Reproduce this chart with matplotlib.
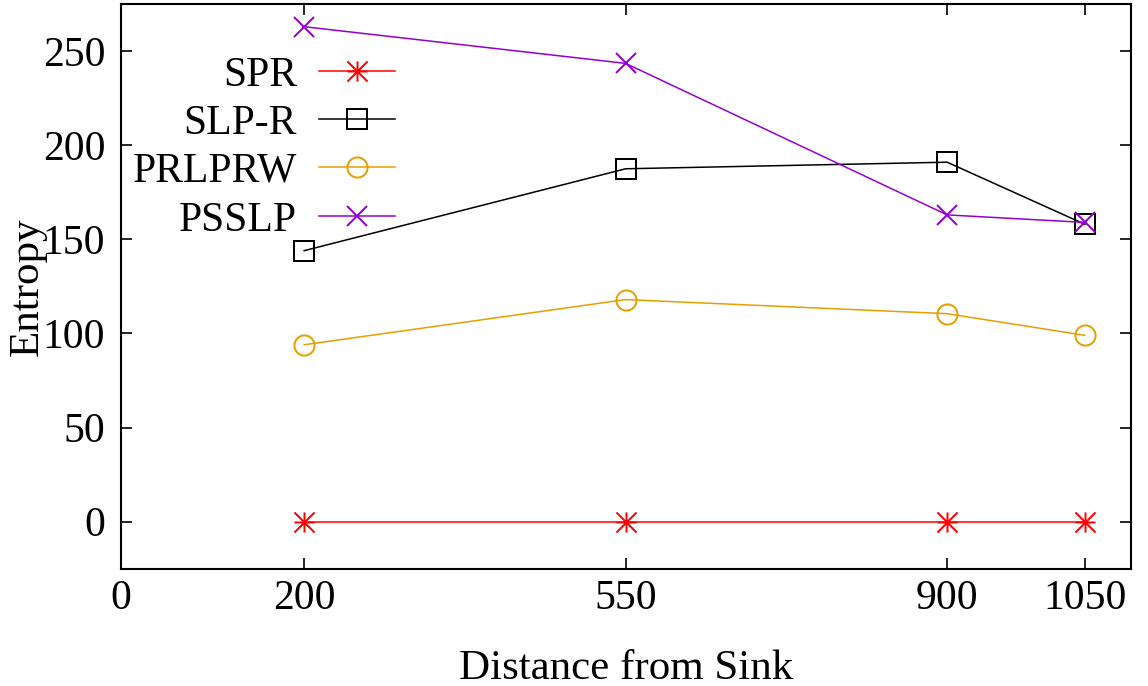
import matplotlib
matplotlib.use("Agg")
import matplotlib.pyplot as plt
from matplotlib.path import Path
from matplotlib.lines import Line2D

# Data
distance = [200, 550, 900, 1050]
spr = [0, 0, 0, 0]
slp_r = [144, 187.5, 191, 158]
prlprw = [94, 118, 110.5, 99]
psslp = [263, 243.5, 163, 159]

x_ticks = [0, 200, 550, 900, 1050]
y_ticks = [0, 50, 100, 150, 200, 250]

plt.rcParams["font.family"] = ["Liberation Serif", "DejaVu Serif"]

# Eight-armed asterisk marker (plus + cross)
asterisk = Path(
    [(-1, 0), (1, 0), (0, -1), (0, 1), (-1, -1), (1, 1), (-1, 1), (1, -1)],
    [Path.MOVETO, Path.LINETO] * 4,
)

fig = plt.figure(figsize=(11.48, 6.86), dpi=100)
ax = fig.add_axes([0.105, 0.171, 0.880, 0.823])

lw = 1.1
ms = 14.5
series = [
    ("SPR", spr, "#ff0000", asterisk),
    ("SLP-R", slp_r, "black", "s"),
    ("PRLPRW", prlprw, "#e69f00", "o"),
    ("PSSLP", psslp, "#9400d3", "x"),
]
for label, values, color, marker in series:
    ax.plot(distance, values, color=color, lw=lw, marker=marker, ms=ms,
            mew=lw * 1.3, mfc="none", label=label)

ax.set_xlim(0, 1100)
ax.set_ylim(-25, 275)
ax.set_xticks(x_ticks)
ax.set_yticks(y_ticks)

ax.tick_params(direction="in", length=8, width=1.2, labelsize=30,
               top=True, right=True, pad=11)
ax.tick_params(axis="x", pad=8)
for s in ax.spines.values():
    s.set_linewidth(1.5)

ax.set_xlabel("Distance from Sink", fontsize=31)
ax.set_ylabel("Entropy", fontsize=31)
ax.yaxis.set_label_coords(-0.073, 0.5)
ax.xaxis.set_label_coords(0.5, -0.143)

# Key: right-aligned names followed by a short line sample with marker
text_x = 0.1746
line_x0, line_x1 = 0.1963, 0.2716
row_y = [0.8814, 0.7965, 0.7115, 0.6248]
for (label, values, color, marker), y in zip(series, row_y):
    ax.text(text_x, y, label, transform=ax.transAxes, ha="right",
            va="center_baseline", fontsize=30)
    ax.add_line(Line2D([line_x0, line_x1], [y, y], transform=ax.transAxes,
                       color=color, lw=lw, clip_on=False))
    ax.add_line(Line2D([(line_x0 + line_x1) / 2], [y], transform=ax.transAxes,
                       color=color, marker=marker, ms=ms, mew=lw * 1.3,
                       mfc="none", linestyle="none", clip_on=False))

fig.savefig("out.png", dpi=100)
